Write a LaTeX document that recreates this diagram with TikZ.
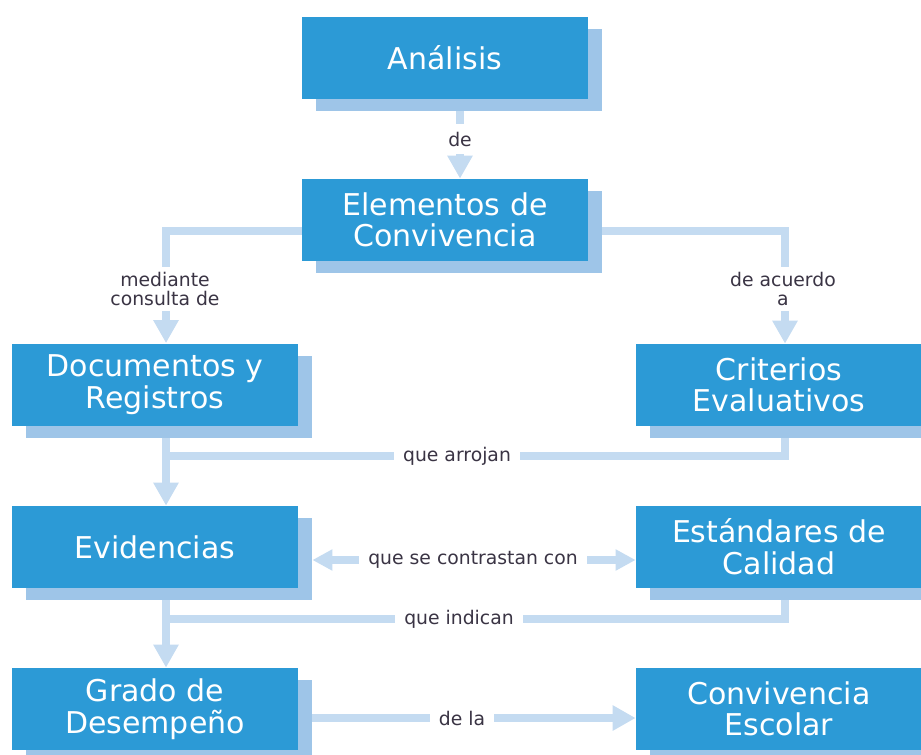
\documentclass[tikz,border=0pt]{standalone}
\usepackage{fontspec}
\setmainfont{DejaVu Sans}
\usetikzlibrary{arrows.meta, shadows, backgrounds}
\definecolor{boxblue}{HTML}{2C9AD6}
\definecolor{shadeblue}{HTML}{9EC5E8}
\definecolor{linkblue}{HTML}{C4DBF1}
\definecolor{labelgray}{HTML}{3A3444}
\tikzset{
    mapbox/.style={fill=boxblue, text=white, minimum width=143pt, minimum height=41pt,
        inner sep=0pt, align=center, font=\fontsize{15}{15.8}\selectfont,
        drop shadow={shadow xshift=7pt, shadow yshift=-6pt, fill=shadeblue, opacity=1}},
    link/.style={draw=linkblue, line width=4pt, line join=miter},
    linkarrow/.style={link, -{Triangle[width=12pt,length=11.5pt]}},
    linktext/.style={fill=white, text=labelgray, align=center, inner xsep=4.5pt,
        inner ysep=2.5pt, font=\fontsize{9.4}{9.8}\selectfont}
}

\begin{document}
\begin{tikzpicture}[x=0.5pt, y=-0.5pt]
    \useasboundingbox (0,0) rectangle (921,755);
    % boxes
    \node[mapbox] (ana) at (445,58) {Análisis};
    \node[mapbox] (elem) at (445,220) {Elementos de\\Convivencia};
    \node[mapbox] (doc) at (155,384.5) {Documentos y\\Registros};
    \node[mapbox] (crit) at (779,385) {Criterios\\Evaluativos};
    \node[mapbox] (evid) at (155,547) {Evidencias};
    \node[mapbox] (estd) at (779,547) {Estándares de\\Calidad};
    \node[mapbox] (grado) at (155,709) {Grado de\\Desempeño};
    \node[mapbox] (conv) at (779,709) {Convivencia\\Escolar};
    % links, behind the boxes
    \begin{scope}[on background layer]
    \fill[white] (0,0) rectangle (921,755);
    \draw[linkarrow] ([xshift=7.5pt]ana.south) -- ([xshift=7.5pt]elem.north);
    \draw[linkarrow] ([yshift=-5.5pt]elem.west) -| ([xshift=5.5pt]doc.north);
    \draw[linkarrow] ([yshift=-5.5pt]elem.east) -| ([xshift=3pt]crit.north);
    \draw[linkarrow] ([xshift=5.5pt]doc.south) -- ([xshift=5.5pt]evid.north);
    \draw[link] ([xshift=3pt]crit.south) |- ([xshift=5.5pt,yshift=-15pt]doc.south);
    \draw[link, {Triangle[width=10pt,length=10pt]}-{Triangle[width=10pt,length=10pt]}]
        ([xshift=7pt,yshift=-6.5pt]evid.east) -- ([yshift=-6.5pt]estd.west);
    \draw[linkarrow] ([xshift=5.5pt]evid.south) -- ([xshift=5.5pt]grado.north);
    \draw[link] ([xshift=3pt]estd.south) |- ([xshift=5.5pt,yshift=-15.5pt]evid.south);
    \draw[linkarrow] ([yshift=-4.5pt]grado.east) -- ([yshift=-4.5pt]conv.west);
    \end{scope}
    % link texts
    \node[linktext, inner ysep=4pt] (tde) at (460,139) {de};
    \node[linktext] (tmed) at (165,289) {mediante\\consulta de};
    \node[linktext] (tacu) at (783,289) {de acuerdo\\a};
    \node[linktext] (tarr) at (457,456.5) {que arrojan};
    \node[linktext] (tcon) at (473,560) {que se contrastan con};
    \node[linktext] (tind) at (459,619) {que indican};
    \node[linktext] (tdel) at (462,718) {de la};
\end{tikzpicture}
\end{document}
